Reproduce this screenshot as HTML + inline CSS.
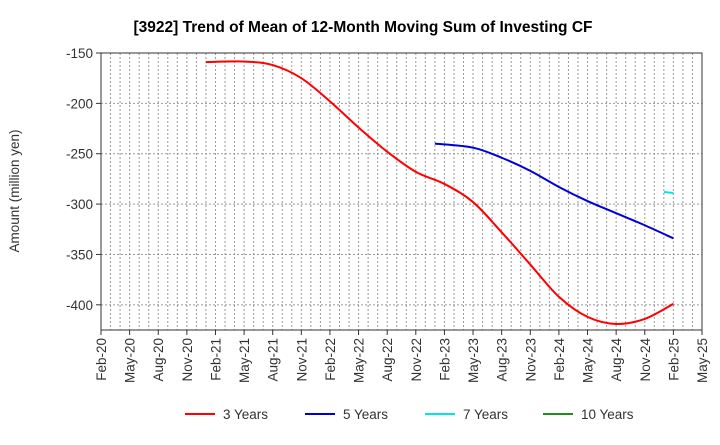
<!DOCTYPE html>
<html><head><meta charset="utf-8"><style>
body{margin:0;background:#fff;font-family:"Liberation Sans",sans-serif}
</style></head><body>
<svg width="720" height="440" xmlns="http://www.w3.org/2000/svg" font-family="Liberation Sans, sans-serif">
<text x="363" y="32" text-anchor="middle" font-size="15.5" font-weight="bold">[3922]  Trend of Mean of 12-Month Moving Sum of Investing CF</text>
<g id="grid"></g><g id="axes"></g><g id="series"></g><g id="legend"></g>
</svg>
<script>
const xTickLabels=["Feb-20","May-20","Aug-20","Nov-20","Feb-21","May-21","Aug-21","Nov-21","Feb-22","May-22","Aug-22","Nov-22","Feb-23","May-23","Aug-23","Nov-23","Feb-24","May-24","Aug-24","Nov-24","Feb-25","May-25"];
const yTicks=[-150,-200,-250,-300,-350,-400];
const seriesNames=["3 Years","5 Years","7 Years","10 Years"];
const seriesColors=["#ff0000","#0000dd","#00e5e5","#228b22"];
// month index from Feb-20
const s3x=[11,15,18,21,24,27,30,33,36,39,42,45,48,51,54,57,60];
const s3y=[-159,-158.5,-162,-175,-198,-224,-248,-268,-280,-298,-328,-360,-392,-412,-419,-414,-399];
const s5x=[35,39,42,45,48,51,54,57,60];
const s5y=[-240,-244,-254,-267,-283,-297,-309,-321,-334];
const s7x=[59,60];
const s7y=[-288,-289];
const L=101,R=702,T=53,B=330,yMin=-425,yMax=-150,months=63;
const X=m=>L+(R-L)*m/months;
const Y=v=>T+(B-T)*(yMax-v)/(yMax-yMin);
const NS="http://www.w3.org/2000/svg";
function mk(t,a,p){const e=document.createElementNS(NS,t);for(const k in a)e.setAttribute(k,a[k]);p.appendChild(e);return e;}
const grid=document.getElementById('grid'),axes=document.getElementById('axes'),series=document.getElementById('series'),legend=document.getElementById('legend');
for(let m=1;m<months;m++){const l=mk('line',{x1:X(m),x2:X(m),y1:T,y2:B,stroke:'#999','stroke-dasharray':'2,2','stroke-width':1},grid);

}
yTicks.forEach(v=>{const l=mk('line',{x1:L,x2:R,y1:Y(v),y2:Y(v),stroke:'#999','stroke-dasharray':'2,2'},grid);


mk('line',{x1:L-5,x2:L,y1:Y(v),y2:Y(v),stroke:'#333'},axes);
const t=mk('text',{x:L-8,y:Y(v)+5,'text-anchor':'end','font-size':13.5,fill:'#333'},axes);t.textContent=v;

});
const fr=mk('rect',{x:L,y:T,width:R-L,height:B-T,fill:'none',stroke:'#333'},axes);


xTickLabels.forEach((s,i)=>{const x=X(i*3);mk('line',{x1:x,x2:x,y1:B,y2:B+5,stroke:'#333'},axes);
const t=mk('text',{x:x+5,y:B+8,'text-anchor':'end','font-size':13.5,fill:'#333',transform:`rotate(-90 ${x+5} ${B+8})`},axes);t.textContent=s;

});
const yt=mk('text',{x:19,y:191,'text-anchor':'middle','font-size':13.5,fill:'#333',transform:'rotate(-90 19 191)'},axes);yt.textContent="Amount (million yen)";


function path(xs,ys){const p=xs.map((m,i)=>[X(m),Y(ys[i])]);let d=`M${p[0][0]},${p[0][1]}`;
for(let i=0;i<p.length-1;i++){const p0=p[i-1]||p[i],p1=p[i],p2=p[i+1],p3=p[i+2]||p2;
d+=`C${p1[0]+(p2[0]-p0[0])/6},${p1[1]+(p2[1]-p0[1])/6} ${p2[0]-(p3[0]-p1[0])/6},${p2[1]-(p3[1]-p1[1])/6} ${p2[0]},${p2[1]}`;}return d;}
[[s3x,s3y,0],[s5x,s5y,1],[s7x,s7y,2]].forEach(([xs,ys,k])=>{const e=mk('path',{d:path(xs,ys),fill:'none',stroke:seriesColors[k],'stroke-width':2},series);

});
const lx=[185,305,425,543];
seriesNames.forEach((n,i)=>{const g=mk('g',{},legend);


mk('line',{x1:lx[i],x2:lx[i]+30,y1:414,y2:414,stroke:seriesColors[i],'stroke-width':2},g);
const t=mk('text',{x:lx[i]+38,y:419,'font-size':13.5,fill:'#333'},g);t.textContent=n;});
</script>
</body></html>
